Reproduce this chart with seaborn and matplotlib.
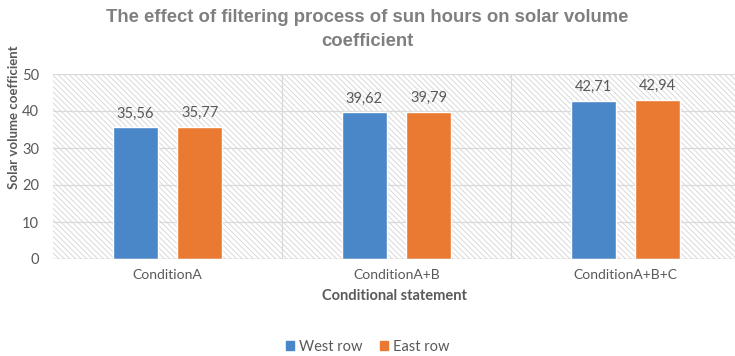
import matplotlib
matplotlib.use("Agg")
import matplotlib.pyplot as plt
from matplotlib.patches import Rectangle
import seaborn as sns
import pandas as pd

conditions = ["ConditionA", "ConditionA+B", "ConditionA+B+C"]
west_row = [35.56, 39.62, 42.71]
east_row = [35.77, 39.79, 42.94]
series_names = ["West row", "East row"]
y_ticks = [0, 10, 20, 30, 40, 50]

df = pd.DataFrame({
    "Condition": conditions * 2,
    "Row": [series_names[0]] * 3 + [series_names[1]] * 3,
    "Value": west_row + east_row,
})

sns.set_theme(style="white")
plt.rcParams["font.family"] = ["Lato", "DejaVu Sans"]
plt.rcParams["hatch.linewidth"] = 0.6
plt.rcParams["hatch.color"] = "#d4d4d4"

text_gray = "#595959"
blue = "#4a87c9"
orange = "#ea7a32"

fig = plt.figure(figsize=(7.35, 3.56), dpi=100)
ax = fig.add_axes([53 / 735, 97 / 356, 1 - 53 / 735, 185 / 356])

# hatched plot-area background
ax.add_patch(Rectangle((0, 0), 1, 1, transform=ax.transAxes, facecolor="white",
                       edgecolor="#d4d4d4", hatch="\\\\\\\\\\\\", linewidth=0, zorder=0))

sns.barplot(data=df, x="Condition", y="Value", hue="Row", order=conditions,
            hue_order=series_names, palette=[blue, orange], width=0.563, gap=0.3,
            ax=ax, zorder=3, legend=False, saturation=1)

ax.set_xlim(-0.5, 2.478)
ax.set_ylim(0, 50)
ax.set_yticks(y_ticks)

for y in y_ticks[1:]:
    ax.axhline(y, color="#d9d9d9", lw=0.9, zorder=1)
for x in [0.5, 1.5]:
    ax.axvline(x, color="#d9d9d9", lw=0.9, zorder=1)
ax.axhline(0, color="#bfbfbf", lw=1.0, zorder=4)

for spine in ax.spines.values():
    spine.set_visible(False)

for container in ax.containers:
    labels = [f"{b.get_height():.2f}".replace(".", ",") for b in container]
    ax.bar_label(container, labels=labels, padding=5, fontsize=10.5, color=text_gray)

ax.tick_params(axis="both", length=0, colors=text_gray)
ax.tick_params(axis="x", pad=7, labelsize=10)
ax.tick_params(axis="y", pad=10, labelsize=10.5)

ax.set_xlabel("Conditional statement", fontsize=10.5, fontweight="bold", color=text_gray, labelpad=6)
ax.set_ylabel("Solar volume coefficient", fontsize=9.5, fontweight="bold", color=text_gray)
ax.yaxis.set_label_coords(-0.048, 0.765)

fig.suptitle("The effect of filtering process of sun hours on solar volume\ncoefficient",
             x=0.5, y=0.975, fontsize=13.3, fontweight="bold", color="#7f7f7f",
             family=["Liberation Sans", "DejaVu Sans"], linespacing=1.55)

handles = [Rectangle((0, 0), 1, 1, color=blue), Rectangle((0, 0), 1, 1, color=orange)]
fig.legend(handles, series_names, loc="lower center", bbox_to_anchor=(0.5, -0.03), ncol=2,
           frameon=False, fontsize=10.5, handlelength=0.6, handleheight=0.6,
           handletextpad=0.3, columnspacing=1.2, labelcolor=text_gray)

fig.savefig("out.png", dpi=100, facecolor="white")
